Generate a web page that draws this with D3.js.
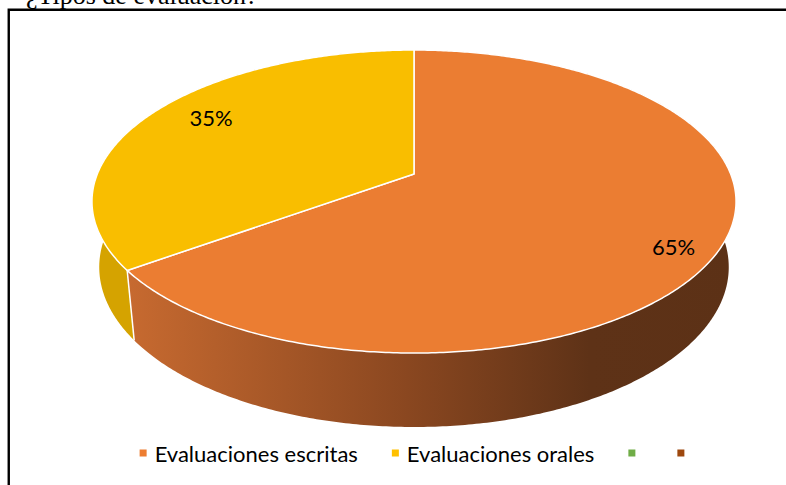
<!DOCTYPE html>
<html>
<head>
<meta charset="utf-8">
<script src="https://cdn.jsdelivr.net/npm/d3@7"></script>
<style>
  body { margin: 0; background: #fff; }
  svg { display: block; }
  .title { font-family: "Liberation Serif", "Times New Roman", serif; font-size: 26px; fill: #000; }
  .label { font-family: Lato, "Noto Sans", sans-serif; font-size: 22px; fill: #000; }
  .legend text { font-family: Lato, "Noto Sans", sans-serif; font-size: 22px; fill: #000; }
</style>
</head>
<body>
<div id="chart"></div>
<script>
const categories = ['Evaluaciones escritas', 'Evaluaciones orales', '', ''];
const values = [65, 35, 0, 0];
const labels = ['65%', '35%'];
const topColors = ['#EB7D32', '#F9BE00', '#70AD47', '#9E480E'];
const legendColors = ['#ED7D31', '#FFC000', '#70AD47', '#9E480E'];

const width = 786, height = 485;
const cx = 414, cy = 174;
// perspective camera for the 3D pie
const phi = 27.56 * Math.PI / 180;
const D = 4.879, f = 1545, H = 0.2357;
const sinP = Math.sin(phi), cosP = Math.cos(phi);

function proj(a, r, yw) {
    const X = r * Math.sin(a), Z = r * Math.cos(a);
    const yp = yw * cosP + Z * sinP;
    const zp = -yw * sinP + Z * cosP;
    return [cx + f * X / (D + zp), cy - f * yp / (D + zp)];
}

const svg = d3.select('#chart')
    .append('svg')
    .attr('width', width)
    .attr('height', height);

const defs = svg.append('defs');

svg.append('text')
    .attr('class', 'title')
    .attr('x', 26)
    .attr('y', 3.5)
    .text('¿Tipos de evaluación?');

svg.append('path')
    .attr('d', `M 8.75 ${height + 5} L 8.75 9.75 L ${width + 5} 9.75`)
    .attr('fill', 'none')
    .attr('stroke', '#000')
    .attr('stroke-width', 2.4);

const arcs = d3.pie().sort(null).value(d => d)(values).filter(d => d.value > 0);

function arcPoints(a0, a1, r, yw) {
    const n = Math.max(2, Math.ceil(Math.abs(a1 - a0) / 0.01));
    return d3.range(n + 1).map(i => proj(a0 + (a1 - a0) * i / n, r, yw));
}

// wall gradient for the big slice
const leftX = proj(arcs[0].endAngle, 1, 0)[0];
const grad = defs.append('linearGradient')
    .attr('id', 'wall0')
    .attr('gradientUnits', 'userSpaceOnUse')
    .attr('x1', leftX).attr('x2', cx + 322).attr('y1', 0).attr('y2', 0);
[[0, '#C76A30'], [0.46, '#8A4720'], [0.76, '#5E3217'], [1, '#5C3116']].forEach(s =>
    grad.append('stop').attr('offset', s[0]).attr('stop-color', s[1]));

const wallFills = ['url(#wall0)', '#D5A300'];
const line = d3.line();

// walls: draw the small slice first, then the big one
[1, 0].forEach(i => {
    const d = arcs[i];
    const top = arcPoints(d.startAngle, d.endAngle, 1, 0);
    const bot = arcPoints(d.endAngle, d.startAngle, 1, -H);
    svg.append('path')
        .attr('d', line(top.concat(bot)) + 'Z')
        .attr('fill', wallFills[i]);
});

// visible vertical edge between the slices
const e0 = proj(arcs[0].endAngle, 1, 0), e1 = proj(arcs[0].endAngle, 1, -H);
svg.append('line')
    .attr('x1', e0[0]).attr('y1', e0[1]).attr('x2', e1[0]).attr('y2', e1[1])
    .attr('stroke', '#fff').attr('stroke-width', 1.5);

// tops
arcs.forEach((d, i) => {
    const pts = [proj(0, 0, 0)].concat(arcPoints(d.startAngle, d.endAngle, 1, 0));
    svg.append('path')
        .attr('d', line(pts) + 'Z')
        .attr('fill', topColors[i])
        .attr('stroke', '#fff')
        .attr('stroke-width', 1.5)
        .attr('stroke-linejoin', 'round');
});

// data labels
const labelR = [0.878, 0.804];
const labelShift = 4 * Math.PI / 180;
arcs.forEach((d, i) => {
    const p = proj((d.startAngle + d.endAngle) / 2 + labelShift, labelR[i], 0);
    svg.append('text')
        .attr('class', 'label')
        .attr('x', p[0])
        .attr('y', p[1])
        .attr('text-anchor', 'middle')
        .attr('dominant-baseline', 'central')
        .text(labels[i]);
});

// legend
const legend = svg.append('g').attr('class', 'legend');
let lx = 0;
categories.forEach((c, i) => {
    const g = legend.append('g').attr('transform', `translate(${lx},0)`);
    g.append('rect').attr('x', 0).attr('y', -3.5).attr('width', 7).attr('height', 7).attr('fill', legendColors[i]);
    const t = g.append('text').attr('x', 15).attr('y', 0).attr('dominant-baseline', 'central').text(c);
    lx += 15 + t.node().getComputedTextLength() + 34;
});
const legendW = lx - 34 - 8;
legend.attr('transform', `translate(${408 - legendW / 2 + 4},453)`);
</script>
</body>
</html>
